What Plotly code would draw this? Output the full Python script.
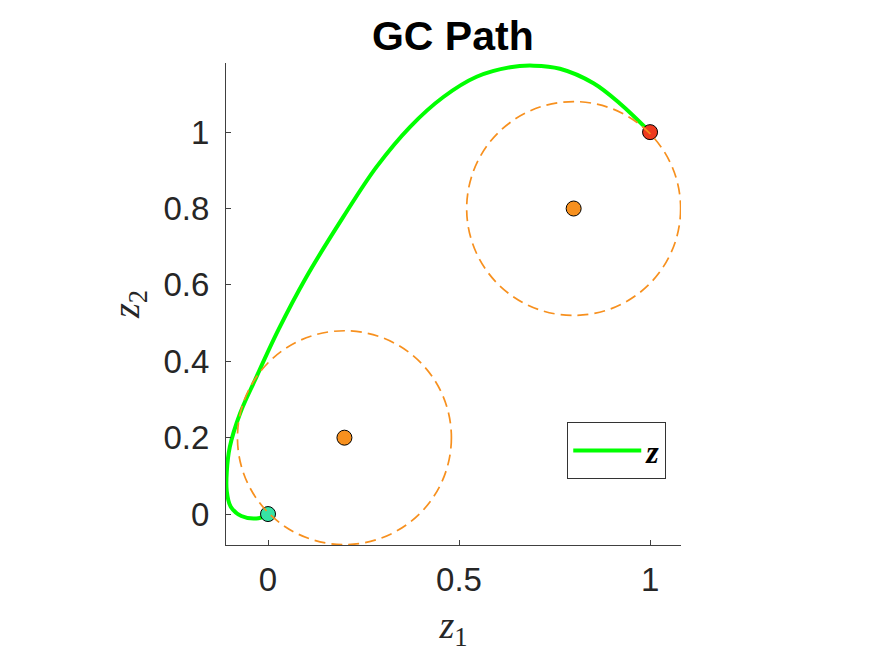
import plotly.graph_objects as go

# Path data
path_x = [0.0, -0.025, -0.07, -0.098, -0.108, -0.108, -0.100, -0.073, -0.034, 0.027, 0.100,
          0.197, 0.284, 0.372, 0.459, 0.546, 0.634, 0.695, 0.764, 0.852, 0.921, 1.0]
path_y = [0.0, -0.011, -0.005, 0.020, 0.060, 0.110, 0.176, 0.264, 0.351, 0.482, 0.620,
          0.778, 0.909, 1.014, 1.092, 1.145, 1.170, 1.174, 1.166, 1.128, 1.075, 1.0]

start_pt = (0.0, 0.0)
end_pt = (1.0, 1.0)
centers_x = [0.2, 0.8]
centers_y = [0.2, 0.8]
radius = 0.28

x_ticks = [0, 0.5, 1]
x_ticklabels = ["0", "0.5", "1"]
y_ticks = [0, 0.2, 0.4, 0.6, 0.8, 1]
y_ticklabels = ["0", "0.2", "0.4", "0.6", "0.8", "1"]

ORANGE = "#F7901E"
GREEN = "#00FF00"

fig = go.Figure()

fig.add_trace(go.Scatter(
    x=path_x, y=path_y, mode="lines", name="<b><i>z</i></b>",
    line=dict(color=GREEN, width=4, shape="spline", smoothing=1.0),
))

fig.add_trace(go.Scatter(
    x=centers_x, y=centers_y, mode="markers", showlegend=False,
    marker=dict(size=15, color=ORANGE, line=dict(color="black", width=1)),
))
fig.add_trace(go.Scatter(
    x=[start_pt[0]], y=[start_pt[1]], mode="markers", showlegend=False,
    marker=dict(size=15, color="#36E3A4", line=dict(color="black", width=1)),
))
fig.add_trace(go.Scatter(
    x=[end_pt[0]], y=[end_pt[1]], mode="markers", showlegend=False,
    marker=dict(size=15, color="#EE3B1F", line=dict(color="black", width=1)),
))

for cx, cy in zip(centers_x, centers_y):
    fig.add_shape(type="circle", xref="x", yref="y",
                  x0=cx - radius, x1=cx + radius, y0=cy - radius, y1=cy + radius,
                  line=dict(color=ORANGE, width=1.7, dash="11px,6px"), layer="above")

axis_common = dict(
    showgrid=False, zeroline=False, showline=True, linecolor="#404040", linewidth=1,
    ticks="inside", ticklen=5, tickcolor="#404040", mirror=False,
    tickfont=dict(family="Liberation Sans, Arial", size=33, color="#262626"),
)

fig.update_layout(
    width=875, height=657,
    margin=dict(l=226, r=194, t=63, b=112),
    paper_bgcolor="white", plot_bgcolor="white",
    title=dict(text="<b>GC Path</b>", x=0.5175, xanchor="center", y=0.945, yanchor="middle",
               font=dict(family="Liberation Sans, Arial", size=41, color="black")),
    xaxis=dict(range=[-0.11, 1.081], tickvals=x_ticks, ticktext=x_ticklabels,
               ticklabelstandoff=5,
               title=dict(text="<i>z</i><sub>1</sub>", standoff=14,
                          font=dict(family="Liberation Serif, Times New Roman", size=38, color="#262626")),
               **axis_common),
    yaxis=dict(range=[-0.081, 1.181], tickvals=y_ticks, ticktext=y_ticklabels,
               ticklabelstandoff=9,
               title=dict(text="<i>z</i><sub>2</sub>", standoff=12,
                          font=dict(family="Liberation Serif, Times New Roman", size=38, color="#262626")),
               **axis_common),
    legend=dict(x=0.75, y=0.255, xanchor="left", yanchor="top", itemwidth=68,
                bordercolor="#333333", borderwidth=1, bgcolor="white",
                font=dict(family="Liberation Serif, Times New Roman", size=32, color="black")),
    showlegend=True,
)

fig.write_html("out.html")
